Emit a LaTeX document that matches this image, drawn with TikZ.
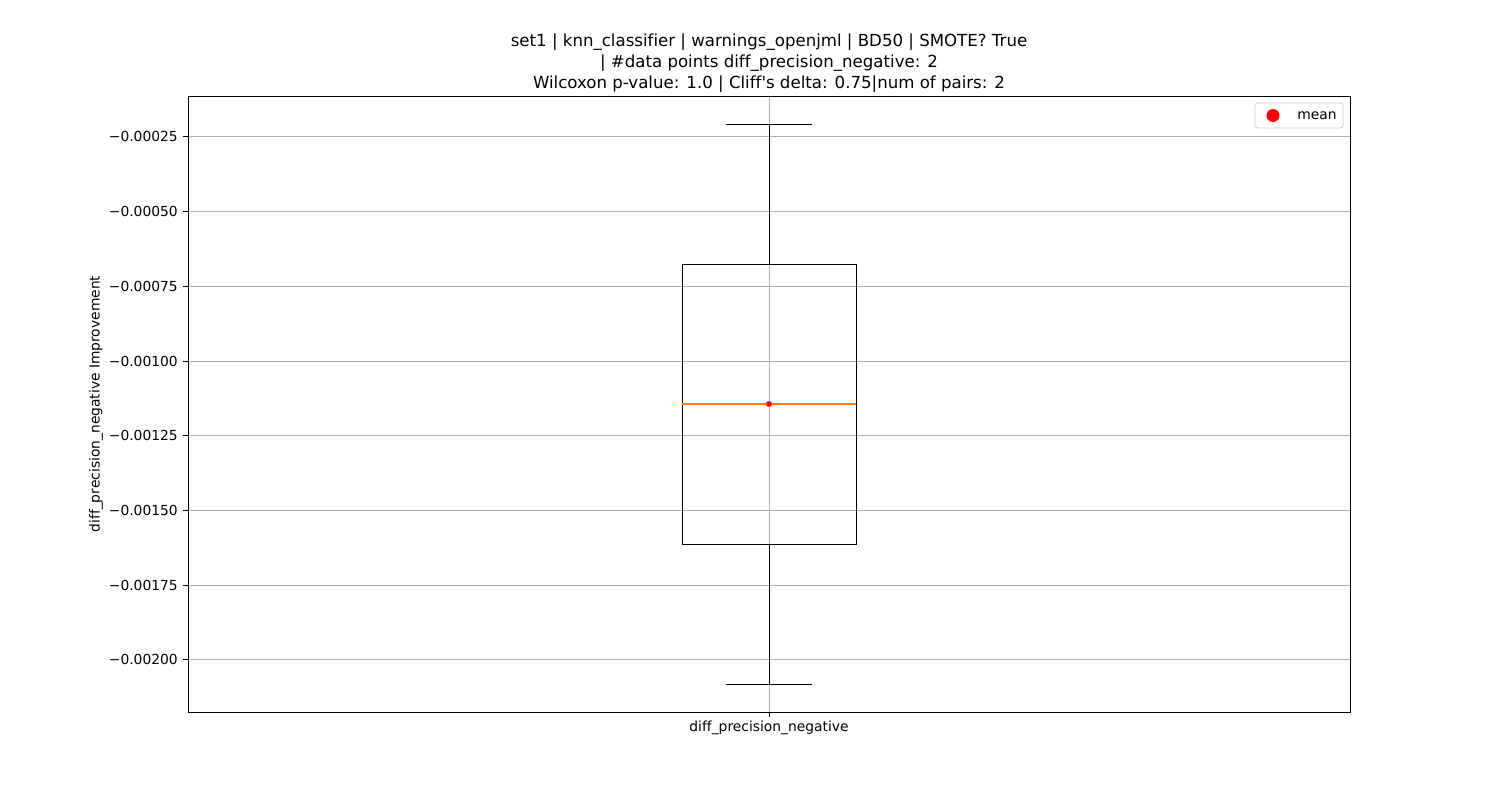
\documentclass[tikz,border=0pt]{standalone}
\usepackage{fontspec}
\setmainfont{DejaVu Sans}[Ligatures=NoCommon]
\usetikzlibrary{positioning}
\definecolor{gridgray}{HTML}{B0B0B0}
\definecolor{medorange}{HTML}{FF7F0E}
\definecolor{legedge}{HTML}{CCCCCC}

\begin{document}
\begin{tikzpicture}
  [x=0.254mm,y=-0.254mm,
   every node/.style={inner sep=0pt,font=\fontsize{10}{12}\selectfont},
   grid/.style={gridgray,line width=0.55pt},
   boxline/.style={black,line width=0.7pt},
   spine/.style={black,line width=0.6pt}]
  \useasboundingbox (0,0) rectangle (1500,800);

  % grid and y ticks
  \foreach \v/\y in {00025/136,00050/211,00075/286,00100/361,00125/435,00150/510,00175/585,00200/659} {
    \draw[grid] (188,\y) -- (1350,\y);
    \draw[spine] (183,\y) -- (188,\y);
    \node[anchor=east] (t\v) at (178,\y) {−0.\v};
  }
  \draw[grid] (769,96) -- (769,712);
  \draw[spine] (769,712) -- (769,717);

  % box and whiskers
  \node[draw,boxline,minimum width=174*0.254mm,minimum height=280*0.254mm] (box) at (769,404) {};
  \coordinate (capT) at (769,124);
  \coordinate (capB) at (769,684);
  \draw[boxline] (box.north) -- (capT);
  \draw[boxline] (box.south) -- (capB);
  \draw[boxline] ([xshift=-43*0.254mm]capT) -- ([xshift=43*0.254mm]capT);
  \draw[boxline] ([xshift=-43*0.254mm]capB) -- ([xshift=43*0.254mm]capB);
  \draw[medorange,line width=0.8pt] (box.west) -- (box.east);
  \node[circle,fill=red,draw=medorange,line width=0.4pt,minimum size=6*0.254mm] (mean) at (box.center) {};

  % axes frame
  \draw[spine] (188,96) rectangle (1350,712);

  % labels
  \node (xlab) at (769,728) {diff\_precision\_negative};
  \node[rotate=90] (ylab) at (96,404) {diff\_precision\_negative Improvement};
  \node[align=center,font=\fontsize{12}{15}\selectfont] (title) at (769,63)
    {set1 | knn\_classifier | warnings\_openjml | BD50 | SMOTE? True\\
     | \#data points diff\_precision\_negative: 2\\
     Wilcoxon p-value: 1.0 | Cliff\textquotesingle s delta: 0.75|num of pairs: 2};

  % legend
  \draw[legedge,fill=white,rounded corners=2pt,line width=0.6pt] (1255,103) rectangle (1343,128);
  \node[circle,fill=red,minimum size=13*0.254mm] (legdot) at (1273,115.5) {};
  \node (legtxt) at (1317,115.5) {mean};
\end{tikzpicture}
\end{document}
